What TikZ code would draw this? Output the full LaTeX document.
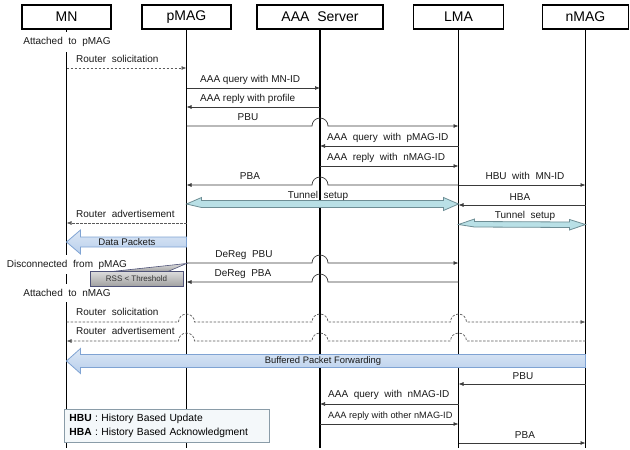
\documentclass[tikz,border=0pt]{standalone}
\usepackage{fontspec}
\setmainfont{Liberation Sans}[WordSpace=2]
\newfontfamily\tightfont{Liberation Sans}
\usetikzlibrary{arrows.meta,calc}

\definecolor{msgcol}{HTML}{3A3A3A}
\definecolor{dashcol}{HTML}{5A5A5A}
\definecolor{pkttop}{HTML}{DCE7F5}
\definecolor{pktbot}{HTML}{B8CFEC}
\definecolor{pktline}{HTML}{7FA3D3}
\definecolor{tunfill}{HTML}{B9E0E6}
\definecolor{tunline}{HTML}{6E8E95}
\definecolor{rsstop}{HTML}{DEDEDE}
\definecolor{rssbot}{HTML}{A2A2A2}
\definecolor{rssline}{HTML}{4E5278}
\definecolor{legfill}{HTML}{F4F8FA}
\definecolor{legline}{HTML}{8A9CA8}

\tikzset{
	actor/.style={draw, line width=1.2pt, minimum height=24pt, inner sep=0pt, font=\fontsize{14}{16}\selectfont},
	life/.style={line width=1.1pt},
	msg/.style={draw=msgcol, line width=0.7pt, -{Latex[length=5pt,width=4pt]}},
	dmsg/.style={msg, draw=dashcol, dash pattern=on 2.5pt off 1.5pt},
	lbl/.style={inner sep=1pt, text=black!90, font=\fontsize{10}{12}\selectfont},
	tlbl/.style={lbl, font=\tightfont\fontsize{10}{12}\selectfont},
	state/.style={lbl, fill=white, inner xsep=2pt, inner ysep=5pt},
	pkt/.style={draw=pktline, line width=0.8pt, top color=pkttop, bottom color=pktbot},
	tun/.style={draw=tunline, line width=0.8pt, fill=tunfill},
	rss/.style={draw=rssline, line width=0.6pt, top color=rsstop, bottom color=rssbot},
	legend/.style={draw=legline, fill=legfill, line width=0.8pt, align=left, text width=195pt, inner xsep=5pt, inner ysep=4.5pt, font=\fontsize{10.3}{14}\selectfont}
}

\begin{document}
\begin{tikzpicture}[x=1pt,y=-1pt]
	\useasboundingbox (0,0) rectangle (630,450);

	\node[actor, minimum width=89pt] (mn) at (66.5,17) {MN};
	\node[actor, minimum width=89pt] (pmag) at (186.5,17) {pMAG};
	\node[actor, minimum width=126pt] (aaa) at (320,17) {AAA Server};
	\node[actor, minimum width=90pt] (lma) at (458.5,17) {LMA};
	\node[actor, minimum width=86pt] (nmag) at (585.5,17) {nMAG};

	\foreach \n in {mn,pmag,aaa,lma,nmag}
		\draw[life] (\n.south) -- (\n |- 0,448);

	\node[state, anchor=base] (att1) at (67,44.5) {Attached to pMAG};
	\node[state, anchor=base] (disc) at (67,267) {Disconnected from pMAG};
	\node[state, anchor=base] (att2) at (67,296.5) {Attached to nMAG};

	% attach to pMAG
	\draw[dmsg] (mn |- 0,68) -- (pmag |- 0,68);
	\node[lbl, anchor=base west] (rs1) at (75,62) {Router solicitation};
	\draw[msg] (pmag |- 0,88) -- (aaa |- 0,88);
	\node[tlbl, anchor=base west] (aq1) at (199,82) {AAA query with MN-ID};
	\draw[msg] (aaa |- 0,107) -- (pmag |- 0,107);
	\node[tlbl, anchor=base west] (ar1) at (199,101) {AAA reply with profile};
	\draw[msg] (pmag |- 0,126) -- ($(aaa |- 0,126)+(-8,0)$) arc(180:360:8) -- (lma |- 0,126);
	\node[lbl, anchor=base] (pbu1) at (248,120) {PBU};
	\draw[msg] (lma |- 0,146) -- (aaa |- 0,146);
	\node[lbl, anchor=base west] (aq2) at (326,140) {AAA query with pMAG-ID};
	\draw[msg] (aaa |- 0,166) -- (lma |- 0,166);
	\node[lbl, anchor=base west] (ar2) at (326,160) {AAA reply with nMAG-ID};
	\draw[msg] (lma |- 0,185) -- ($(aaa |- 0,185)+(8,0)$) arc(0:-180:8) -- (pmag |- 0,185);
	\node[lbl, anchor=base] (pba1) at (250,179) {PBA};
	\draw[msg] (lma |- 0,185) -- (nmag |- 0,185);
	\node[lbl, anchor=base] (hbu) at (525,179) {HBU with MN-ID};

	\draw[tun] (pmag |- 0,204) -- ++(15,-6.5) -- ++(0,3) -- ($(lma |- 0,200.5)+(-15,0)$) -- ++(0,-3) -- (lma |- 0,204) -- ++(-15,6.5) -- ++(0,-3) -- ($(pmag |- 0,207.5)+(15,0)$) -- cycle;
	\node[lbl, anchor=base] (tun1) at (318,198) {Tunnel setup};
	\draw[msg] (nmag |- 0,205) -- (lma |- 0,205);
	\node[lbl, anchor=base] (hba) at (520,200) {HBA};
	\draw[tun] (lma |- 0,224.5) -- ++(16,-5.5) -- ++(0,2.5) -- ($(nmag |- 0,222)+(-16,0)$) -- ++(0,-2.5) -- (nmag |- 0,224.5) -- ++(-16,5.5) -- ++(0,-2.5) -- ($(lma |- 0,227)+(16,0)$) -- cycle;
	\node[lbl, anchor=base] (tun2) at (525,218) {Tunnel setup};

	\draw[dmsg] (pmag |- 0,223) -- (mn |- 0,223);
	\node[lbl, anchor=base west] (ra1) at (75,217) {Router advertisement};
	\draw[pkt] (pmag |- 0,237) -- ($(mn |- 0,237)+(14,0)$) -- ++(0,-7) -- (mn |- 0,242) -- ++(14,12) -- ++(0,-7) -- (pmag |- 0,247) -- cycle;
	\node[lbl, font=\tightfont\fontsize{9.6}{11}\selectfont] (data) at (127,242) {Data Packets};

	% handover
	\draw[msg] (pmag |- 0,263) -- ($(aaa |- 0,263)+(-8,0)$) arc(180:360:8) -- (lma |- 0,263);
	\node[lbl, anchor=base] (dpbu) at (244,257) {DeReg PBU};
	\draw[msg] (lma |- 0,282) -- ($(aaa |- 0,282)+(8,0)$) arc(0:-180:8) -- (pmag |- 0,282);
	\node[lbl, anchor=base] (dpba) at (243,276.5) {DeReg PBA};
	\draw[rss] (112,271.5) -- (pmag |- 0,263.5) -- (168,271.5) -- cycle;
	\node[rss, minimum width=93pt, minimum height=15pt, inner sep=0pt, text=black!80, font=\tightfont\fontsize{8}{9}\selectfont] (rss) at (136.5,278.5) {RSS < Threshold};

	% attach to nMAG
	\draw[dmsg] (mn |- 0,322) -- ($(pmag |- 0,322)+(-8,0)$) arc(180:360:8) -- ($(aaa |- 0,322)+(-8,0)$) arc(180:360:8) -- ($(lma |- 0,322)+(-8,0)$) arc(180:360:8) -- (nmag |- 0,322);
	\node[lbl, anchor=base west] (rs2) at (75,315.5) {Router solicitation};
	\draw[dmsg] (nmag |- 0,341) -- ($(lma |- 0,341)+(8,0)$) arc(0:-180:8) -- ($(aaa |- 0,341)+(8,0)$) arc(0:-180:8) -- ($(pmag |- 0,341)+(8,0)$) arc(0:-180:8) -- (mn |- 0,341);
	\node[lbl, anchor=base west] (ra2) at (75,334.5) {Router advertisement};
	\draw[pkt] (nmag |- 0,354.5) -- ($(mn |- 0,354.5)+(14,0)$) -- ++(0,-6) -- (mn |- 0,361) -- ++(14,12.5) -- ++(0,-6) -- (nmag |- 0,367.5) -- cycle;
	\node[lbl, font=\tightfont\fontsize{9.4}{11}\selectfont] (buf) at (323,361) {Buffered Packet Forwarding};
	\draw[msg] (nmag |- 0,384) -- (lma |- 0,384);
	\node[lbl, anchor=base] (pbu2) at (523,379) {PBU};
	\draw[msg] (lma |- 0,404) -- (aaa |- 0,404);
	\node[lbl, anchor=base west] (aq3) at (327,397.5) {AAA query with nMAG-ID};
	\draw[msg] (aaa |- 0,424) -- (lma |- 0,424);
	\node[tlbl, anchor=base west, font=\tightfont\fontsize{9.2}{11}\selectfont] (ar3) at (327,418) {AAA reply with other nMAG-ID};
	\draw[msg] (lma |- 0,443) -- (nmag |- 0,443);
	\node[lbl, anchor=base] (pba2) at (525,438) {PBA};

	\node[legend, anchor=north west] (leg) at (64,409) {\textbf{HBU} : History Based Update\\\textbf{HBA} : History Based Acknowledgment};
\end{tikzpicture}
\end{document}
